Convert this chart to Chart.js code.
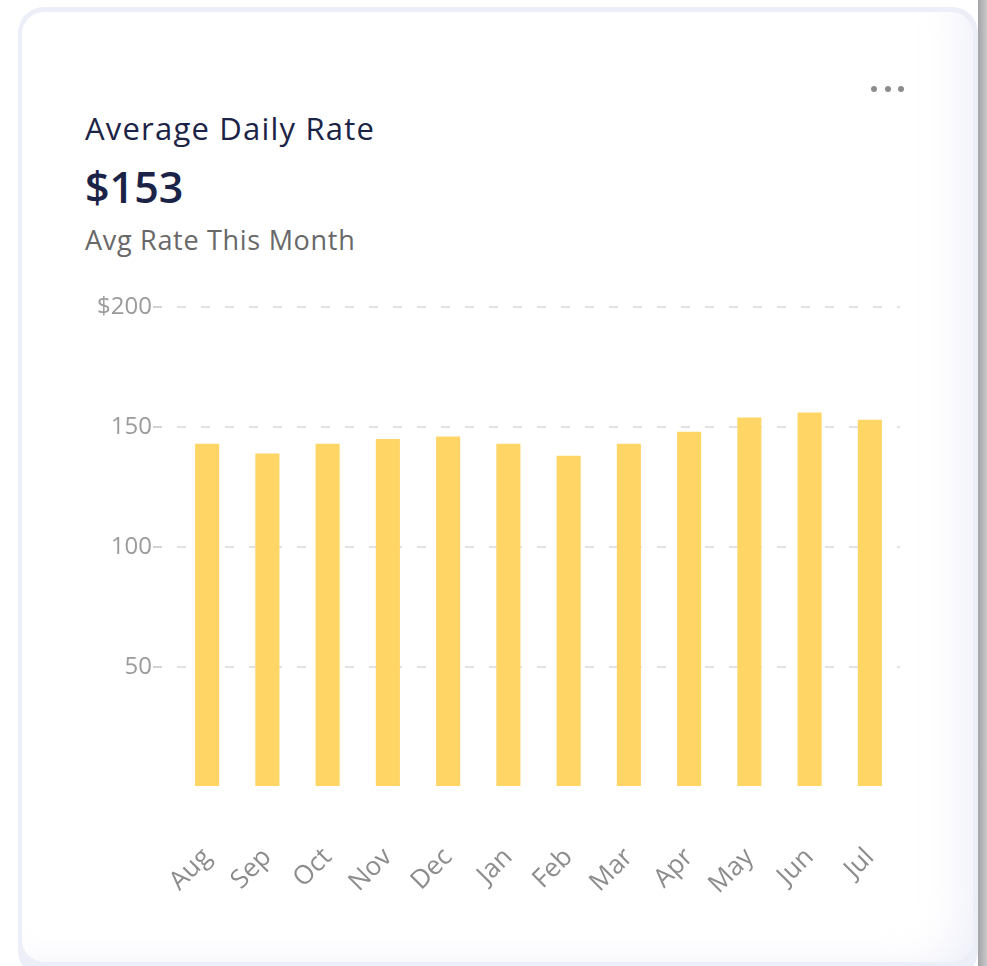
<!DOCTYPE html>
<html>
<head>
<meta charset="utf-8">
<script src="https://cdn.jsdelivr.net/npm/chart.js@4.4.1/dist/chart.umd.min.js"></script>
<style>
  html, body { margin: 0; padding: 0; background: #ffffff; }
  body { width: 987px; height: 966px; position: relative; overflow: hidden; font-family: 'Open Sans', 'Noto Sans', sans-serif; }
  .frame { position: absolute; left: 18px; top: 7px; width: 960px; height: 970px; background: #eceef8; border-radius: 26px; }
  .edge { position: absolute; left: 978px; top: 0; width: 9px; height: 966px; background: linear-gradient(to right, #a4a4a8, #c9c9cc); }
  .card { position: absolute; left: 22px; top: 12px; width: 951px; height: 950px; background: #ffffff; border-radius: 22px;
          box-shadow: inset -40px -24px 40px -30px rgba(232,234,246,0.7); }
  .title { position: absolute; left: 85px; top: 113px; font-size: 31px; letter-spacing: 1.2px; line-height: 1; color: #1b2346; font-weight: 500; white-space: nowrap; }
  .value { position: absolute; left: 85px; top: 165px; font-size: 43px; line-height: 1; color: #1b2346; font-weight: 600; white-space: nowrap; }
  .sub { position: absolute; left: 85px; top: 226px; font-size: 27px; letter-spacing: 0.7px; line-height: 1; color: #686868; white-space: nowrap; }
  .dots { position: absolute; left: 870px; top: 86px; }
  .dots span { position: absolute; top: 0; width: 6px; height: 6px; border-radius: 50%; background: #8c8c8c; }
  #chart { position: absolute; left: 0; top: 280px; }
</style>
</head>
<body>
<div class="frame"></div>
<div class="edge"></div>
<div class="card"></div>
<div class="title">Average Daily Rate</div>
<div class="value" id="headline"></div>
<div class="sub">Avg Rate This Month</div>
<div class="dots"><span style="left:1px"></span><span style="left:15px"></span><span style="left:28px"></span></div>
<canvas id="chart" width="987" height="686"></canvas>
<script>
// Monthly average daily rate, Aug through Jul
const months = ['Aug', 'Sep', 'Oct', 'Nov', 'Dec', 'Jan', 'Feb', 'Mar', 'Apr', 'May', 'Jun', 'Jul'];
const avgRates = [143, 139, 143, 145, 146, 143, 138, 143, 148, 154, 156, 153];
// Y-axis labels for ticks 0, 50, 100, 150, 200 (zero left blank)
const rateTickLabels = ['', '50', '100', '150', '$200'];

// Headline shows the current (latest) month's rate
document.getElementById('headline').textContent = '$' + avgRates[avgRates.length - 1];

const gridGray = '#e2e2e2';
const dash = [9, 15];
const labelFont = "'Open Sans', 'Noto Sans', sans-serif";

new Chart(document.getElementById('chart'), {
  type: 'bar',
  data: {
    labels: months,
    datasets: [{
      data: avgRates,
      backgroundColor: '#ffd566',
      borderWidth: 0,
      barPercentage: 0.4,
      categoryPercentage: 1.0
    }]
  },
  options: {
    responsive: false,
    animation: false,
    layout: { padding: { top: 27, right: 87, left: 0, bottom: 0 } },
    plugins: { legend: { display: false }, tooltip: { enabled: false } },
    scales: {
      x: {
        grid: { display: false },
        border: { display: false },
        ticks: {
          color: '#8d8d8d',
          font: { family: labelFont, size: 26 },
          minRotation: 45,
          maxRotation: 45,
          autoSkip: false,
          padding: 47
        },
        afterFit: (scale) => { scale.height = 179; }
      },
      y: {
        min: 0,
        max: 200,
        border: { display: false, dash: dash },
        grid: {
          color: (ctx) => (ctx.tick && ctx.tick.value === 0 ? 'rgba(0,0,0,0)' : gridGray),
          lineWidth: 2,
          tickLength: 24,
          tickWidth: 2,
          tickBorderDash: dash,
          tickColor: (ctx) => (ctx.tick && ctx.tick.value === 0 ? 'rgba(0,0,0,0)' : '#d4d4d4')
        },
        ticks: {
          stepSize: 50,
          color: '#9b9b9b',
          font: { family: labelFont, size: 24 },
          padding: 1,
          callback: (value, index) => rateTickLabels[index]
        },
        afterFit: (scale) => { scale.width = 177; }
      }
    }
  }
});
</script>
</body>
</html>
